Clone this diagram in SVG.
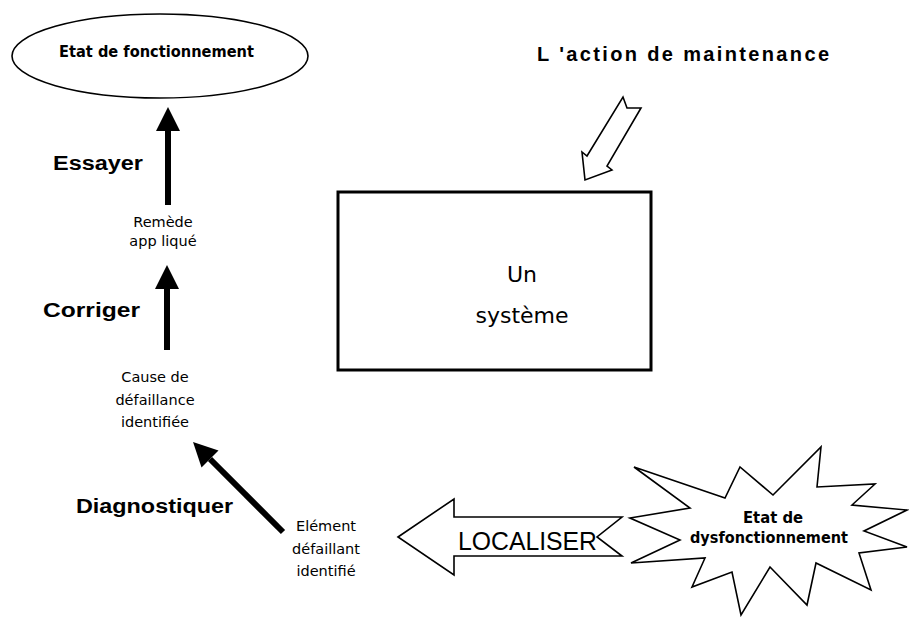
<svg xmlns="http://www.w3.org/2000/svg" width="909" height="617" viewBox="0 0 909 617">
  <style>
    .outline { fill: #ffffff; stroke: #000000; stroke-width: 1.6; stroke-linejoin: miter; }
    .flow { stroke: #000000; stroke-width: 6; fill: none; marker-end: url(#head); }
    .verb { font-family: "Liberation Sans", "DejaVu Sans", sans-serif; font-weight: bold; font-size: 20px; fill: #000000; }
    .state { font-family: "DejaVu Sans", "Liberation Sans", sans-serif; font-size: 14.5px; fill: #000000; text-anchor: middle; }
    .title { font-family: "DejaVu Sans", "Liberation Sans", sans-serif; font-weight: bold; font-size: 15px; fill: #000000; }
    .system { font-family: "DejaVu Sans", "Liberation Sans", sans-serif; font-size: 22px; fill: #000000; text-anchor: middle; }
  </style>
  <defs>
    <marker id="head" markerUnits="userSpaceOnUse" markerWidth="24" markerHeight="24" refX="0" refY="12" orient="auto" overflow="visible">
      <path d="M0,0 L24,12 L0,24 z" fill="#000000"/>
    </marker>
  </defs>
  <rect width="909" height="617" fill="#ffffff"/>

  <!-- connectors between the maintenance states -->
  <g id="connectors">
    <line class="flow" x1="168" y1="205" x2="168" y2="131"/>
    <line class="flow" x1="167" y1="350" x2="167" y2="289"/>
    <line class="flow" x1="283" y1="532" x2="210" y2="459"/>
  </g>

  <!-- operating state -->
  <g id="etat-fonctionnement">
    <ellipse class="outline" cx="160" cy="56" rx="148" ry="42"/>
    <text class="title" x="59" y="57" textLength="195" lengthAdjust="spacingAndGlyphs">Etat de fonctionnement</text>
  </g>

  <g id="essayer">
    <text class="verb" x="53" y="170" textLength="90" lengthAdjust="spacingAndGlyphs">Essayer</text>
  </g>

  <g id="remede-applique">
    <text class="state" x="163" y="227">Remède</text>
    <text class="state" x="163" y="246">app liqué</text>
  </g>

  <g id="corriger">
    <text class="verb" x="43" y="317" textLength="97" lengthAdjust="spacingAndGlyphs">Corriger</text>
  </g>

  <g id="cause-identifiee">
    <text class="state" x="155" y="382">Cause de</text>
    <text class="state" x="155" y="405">défaillance</text>
    <text class="state" x="155" y="427">identifiée</text>
  </g>

  <g id="diagnostiquer">
    <text class="verb" x="76" y="513" textLength="157" lengthAdjust="spacingAndGlyphs">Diagnostiquer</text>
  </g>

  <g id="element-identifie">
    <text class="state" x="326" y="531">Elément</text>
    <text class="state" x="326" y="554">défaillant</text>
    <text class="state" x="326" y="576">identifié</text>
  </g>

  <!-- the system under maintenance -->
  <g id="systeme">
    <rect x="338" y="192" width="313" height="178" fill="#ffffff" stroke="#000000" stroke-width="3"/>
    <text class="system" x="522" y="282">Un</text>
    <text class="system" x="522" y="323">système</text>
  </g>

  <g id="action-maintenance">
    <text class="verb" x="537" y="61" textLength="293" lengthAdjust="spacing" style="letter-spacing:1px">L 'action de maintenance</text>
    <path class="outline" stroke-width="2" d="M585,180 L582,152 L587,156 L623,97 L627,108 L641,108 L607,166 L612,170 Z"/>
  </g>

  <!-- block arrow pointing left -->
  <g id="localiser">
    <path class="outline" d="M398,537 L454,499 L454,517 L622,517 L597,537 L622,556 L454,556 L454,575 Z"/>
    <text x="458" y="550" font-family="'Liberation Sans', 'DejaVu Sans', sans-serif" font-size="25" textLength="139" lengthAdjust="spacingAndGlyphs">LOCALISER</text>
  </g>

  <!-- failure state burst -->
  <g id="etat-dysfonctionnement">
    <path class="outline" d="M630,518 L690,508 L634,467 L725,498 L740,467 L773,495 L821,447 L817,487 L875,484 L852,505 L907,510 L864,531 L907,547 L859,553 L871,590 L816,563 L807,605 L770,567 L741,615 L732,572 L692,587 L705,558 L631,563 L680,540 Z"/>
    <text class="title" x="743" y="523" font-size="14" textLength="60" lengthAdjust="spacingAndGlyphs">Etat de</text>
    <text class="title" x="690" y="543" font-size="14" textLength="158" lengthAdjust="spacingAndGlyphs">dysfonctionnement</text>
  </g>
</svg>
